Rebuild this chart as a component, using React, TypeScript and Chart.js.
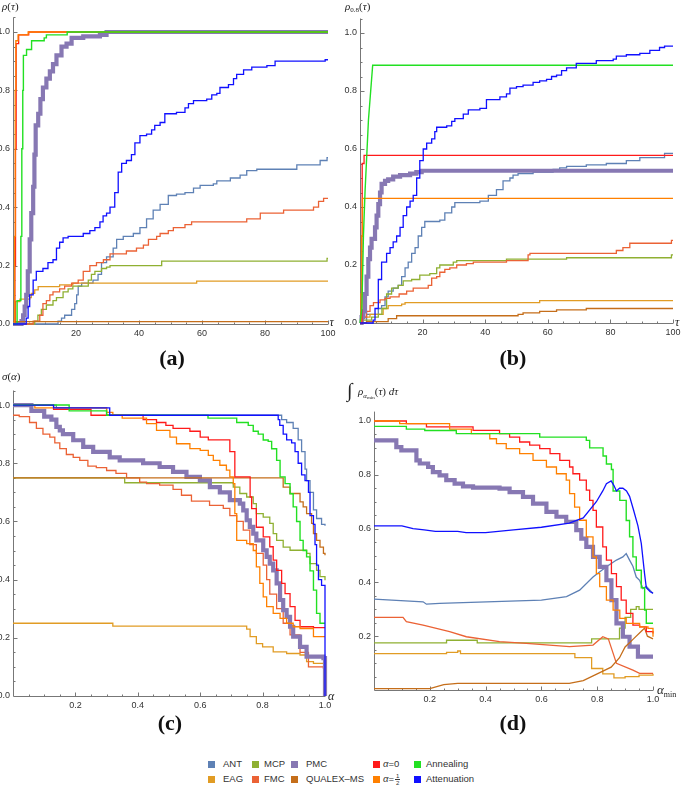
import React, { useEffect, useRef } from 'react';
import { Chart, registerables } from 'chart.js';
Chart.register(...registerables);

type P = [number, number];

// ---------- series names (drawing order, later = on top) ----------
const NAMES = ['ANT', 'EAG', 'MCP', 'FMC', 'PMC', 'QUALEX-MS', 'α=0', 'α=1/2', 'Annealing', 'Attenuation'];

// ---------- tick labels ----------
const TAU_TICKS = [20, 40, 60, 80, 100];
const ALPHA_TICKS = [0.2, 0.4, 0.6, 0.8, 1.0];
const Y_TICKS = [0, 0.2, 0.4, 0.6, 0.8, 1.0];
const Y_TICKS_D = [0.2, 0.4, 0.6, 0.8, 1.0];

// ---------- panel (a): rho(tau) ----------
const A_ANT: P[] = [[0,0],[14.3,0.01],[15.4,0.02],[16.4,0.03],[18.6,0.05],[19.6,0.07],[20.2,0.1],[20.7,0.13],[21.8,0.14],[25.4,0.15],[27,0.17],[28.1,0.21],[29.7,0.23],[31.8,0.26],[32.9,0.29],[35,0.3],[38.2,0.31],[40.3,0.33],[42.4,0.36],[44.5,0.39],[46.7,0.41],[49.3,0.44],[51.9,0.445],[54.6,0.45],[57.3,0.465],[59.4,0.475],[63.6,0.48],[64.7,0.49],[69,0.5],[72.1,0.51],[74.2,0.525],[77.4,0.53],[90.1,0.545],[97.5,0.56],[99.7,0.57],[100,0.57]];
const A_EAG: P[] = [[0,0],[0.8,0.077],[2.2,0.085],[5.3,0.09],[5.8,0.105],[6.9,0.117],[8,0.128],[14.8,0.134],[19,0.14],[58.3,0.147],[100,0.147]];
const A_MCP: P[] = [[0,0],[6.9,0.01],[7.9,0.03],[9,0.05],[10.6,0.065],[12.7,0.08],[13.8,0.09],[15.9,0.11],[17.5,0.12],[19,0.13],[23.9,0.15],[24.9,0.17],[26,0.18],[28.1,0.19],[29.7,0.195],[30.8,0.2],[47.2,0.215],[99.7,0.225],[100,0.225]];
const A_FMC: P[] = [[0,0],[6.4,0.01],[8.5,0.03],[9.5,0.07],[10.6,0.08],[11.7,0.1],[12.7,0.11],[14.8,0.12],[16.4,0.13],[18.6,0.14],[20.7,0.15],[22.3,0.18],[24.4,0.2],[26.5,0.21],[28.7,0.22],[30.8,0.24],[36,0.25],[39.2,0.26],[41.4,0.27],[43,0.29],[45.6,0.3],[46.7,0.31],[49.3,0.32],[50.9,0.33],[54.6,0.34],[56.7,0.35],[74.2,0.36],[78.5,0.38],[85.9,0.39],[95.4,0.4],[97,0.42],[98.6,0.43],[100,0.43]];
const A_PMC: P[] = [[0,0],[2.7,0.01],[3.2,0.03],[3.7,0.06],[4.2,0.1],[4.7,0.18],[5.3,0.29],[5.8,0.38],[6.4,0.47],[6.8,0.58],[7.2,0.68],[8,0.72],[8.7,0.77],[9.5,0.81],[10.6,0.84],[11.7,0.865],[12.7,0.89],[13.8,0.92],[15.4,0.95],[17,0.96],[18.6,0.98],[22.3,0.985],[27.6,0.99],[29.7,1],[100,1]];
const A_QUALEX: P[] = [[0,0.008],[100,0.008]];
const A_A0: P[] = [[0,0],[0.6,0.2],[0.8,0.6],[1,0.96],[1.8,0.99],[5,1],[100,1]];
const A_AH: P[] = [[0,0],[0.5,0.3],[0.7,0.8],[0.9,0.97],[1.6,0.99],[4.8,1],[100,1]];
const A_ANN: P[] = [[0,0],[1.3,0.08],[2.2,0.08],[2.5,0.3],[2.8,0.6],[3.1,0.8],[3.3,0.92],[4.3,0.94],[5.9,0.97],[9.9,0.98],[10.6,0.99],[17.2,1],[100,1]];
const A_ATT: P[] = [[0,0],[4.2,0.02],[4.8,0.06],[5.3,0.1],[6.4,0.15],[7.4,0.18],[9.5,0.19],[11.1,0.21],[12.7,0.22],[13.8,0.26],[14.8,0.28],[15.9,0.295],[17.5,0.3],[22.3,0.31],[24.4,0.32],[26,0.33],[27.6,0.35],[28.6,0.37],[29.7,0.38],[30.8,0.4],[32.3,0.45],[33.4,0.52],[34.5,0.55],[36,0.56],[37.6,0.58],[38.7,0.62],[40.3,0.645],[42.4,0.65],[44,0.665],[45,0.68],[46.7,0.69],[48.2,0.72],[51.9,0.725],[54.6,0.74],[55.7,0.755],[57.3,0.765],[61.5,0.77],[63.1,0.785],[64.7,0.79],[65.7,0.81],[68.4,0.82],[70,0.84],[71,0.855],[73.2,0.87],[75.8,0.88],[80.6,0.885],[83.2,0.9],[99.1,0.905],[100,0.905]];

// ---------- panel (b): rho_0.8(tau) ----------
const B_ANT: P[] = [[0,0],[2.1,0.03],[5.85,0.05],[6.9,0.06],[8,0.09],[9,0.11],[10.6,0.12],[12.2,0.13],[13.3,0.16],[14.4,0.19],[15.4,0.21],[16.5,0.24],[17.6,0.26],[18.6,0.3],[19.7,0.33],[20.7,0.35],[25.5,0.355],[27.1,0.38],[29.3,0.4],[30.3,0.415],[38.3,0.42],[41,0.44],[43.6,0.46],[45.7,0.49],[47.9,0.5],[48.9,0.51],[50.5,0.515],[55.3,0.52],[61.7,0.53],[63.8,0.535],[66,0.54],[72.3,0.545],[78.7,0.55],[85.1,0.56],[89.4,0.57],[97.3,0.585],[100,0.585]];
const B_EAG: P[] = [[0,0.01],[1,0.02],[3.2,0.03],[7.4,0.05],[9,0.06],[13.3,0.065],[14.4,0.07],[57.4,0.077],[100,0.077]];
const B_MCP: P[] = [[0,0],[1,0.01],[3.7,0.02],[5.85,0.03],[7,0.05],[8.5,0.1],[10.1,0.12],[12.2,0.13],[13.8,0.145],[16.5,0.15],[19.1,0.165],[22.3,0.17],[24.5,0.19],[25.5,0.2],[29.8,0.21],[30.9,0.215],[46.8,0.22],[66,0.225],[99.5,0.235],[100,0.235]];
const B_FMC: P[] = [[0,0.01],[1,0.02],[2.1,0.04],[3.2,0.06],[4.3,0.07],[6.4,0.08],[8,0.085],[9.6,0.09],[12.5,0.1],[14.9,0.11],[17,0.12],[21.8,0.13],[22.9,0.155],[24.5,0.16],[25.5,0.175],[27.1,0.185],[28.7,0.19],[30.9,0.2],[34,0.205],[36.2,0.21],[46.8,0.215],[53.7,0.235],[54.3,0.24],[81.9,0.25],[84,0.26],[86.2,0.275],[99.5,0.285],[100,0.285]];
const B_PMC: P[] = [[0,0],[0.5,0.02],[1.06,0.04],[1.6,0.1],[2.1,0.16],[2.66,0.22],[3.2,0.26],[3.7,0.29],[4.8,0.33],[5.3,0.37],[5.85,0.41],[6.4,0.45],[6.9,0.48],[8,0.49],[9,0.495],[10.6,0.505],[12.8,0.51],[16,0.515],[18,0.52],[19.7,0.525],[100,0.525]];
const B_QUALEX: P[] = [[0,0],[2.1,0.005],[9,0.015],[11.7,0.025],[50.5,0.03],[52.1,0.035],[57.4,0.04],[62.8,0.045],[72.3,0.05],[100,0.05]];
const B_A0: P[] = [[0,0],[0.5,0],[0.6,0.3],[0.7,0.55],[1.3,0.578],[100,0.578]];
const B_AH: P[] = [[0,0],[0.3,0.1],[0.5,0.3],[0.8,0.43],[100,0.43]];
const B_ANN: P[] = [[0,0],[0.3,0],[0.6,0.05],[1.1,0.3],[1.6,0.45],[2.7,0.7],[4.05,0.889],[100,0.889]];
const B_ATT: P[] = [[0,0],[4.2,0.01],[4.8,0.05],[5.85,0.15],[6.9,0.21],[8.5,0.24],[9.6,0.26],[10.6,0.28],[11.7,0.3],[12.8,0.33],[13.8,0.37],[14.9,0.4],[16,0.42],[17,0.44],[18.1,0.5],[19.1,0.56],[20.2,0.6],[21.3,0.62],[22.9,0.635],[23.9,0.66],[24.5,0.675],[27.7,0.68],[29.3,0.695],[30.3,0.705],[33,0.72],[34.6,0.735],[38.3,0.74],[40.4,0.77],[44.7,0.78],[46.8,0.79],[47.9,0.81],[50,0.815],[52.1,0.82],[55.3,0.83],[57.4,0.835],[59.6,0.84],[61.2,0.85],[62.8,0.855],[64.4,0.87],[66,0.88],[69.1,0.895],[75.5,0.905],[80.9,0.91],[81.9,0.92],[85.1,0.925],[89.4,0.93],[92.6,0.94],[95.7,0.95],[97.3,0.955],[100,0.955]];

// ---------- panel (c): sigma(alpha) ----------
const C_ANT: P[] = [[0,1],[0.139,0.99],[0.3,0.965],[0.861,0.95],[0.877,0.94],[0.898,0.92],[0.914,0.88],[0.925,0.84],[0.936,0.78],[0.941,0.74],[0.952,0.7],[0.963,0.64],[0.973,0.61],[0.989,0.59],[1,0.585]];
const C_EAG: P[] = [[0,0.25],[0.32,0.24],[0.749,0.23],[0.76,0.204],[0.78,0.18],[0.8,0.169],[0.834,0.152],[0.877,0.146],[0.92,0.141],[0.941,0.118],[0.963,0.112],[1,0.112]];
const C_MCP: P[] = [[0,0.75],[0.358,0.733],[0.706,0.718],[0.727,0.696],[0.749,0.684],[0.77,0.661],[0.78,0.627],[0.802,0.615],[0.823,0.593],[0.834,0.558],[0.845,0.535],[0.866,0.512],[0.888,0.501],[0.941,0.49],[0.952,0.455],[0.973,0.432],[0.984,0.41],[1,0.398]];
const C_FMC: P[] = [[0,0.965],[0.02,0.96],[0.053,0.94],[0.075,0.92],[0.096,0.9],[0.118,0.89],[0.134,0.87],[0.15,0.85],[0.171,0.83],[0.193,0.82],[0.214,0.81],[0.24,0.79],[0.267,0.785],[0.3,0.775],[0.33,0.765],[0.364,0.75],[0.406,0.735],[0.428,0.73],[0.47,0.725],[0.513,0.71],[0.54,0.69],[0.572,0.67],[0.63,0.655],[0.674,0.645],[0.695,0.62],[0.717,0.6],[0.738,0.57],[0.759,0.52],[0.78,0.49],[0.802,0.45],[0.813,0.4],[0.823,0.35],[0.845,0.3],[0.866,0.25],[0.888,0.21],[0.92,0.15],[0.947,0.1],[0.995,0.095],[1,0.095]];
const C_PMC: P[] = [[0,1],[0.059,0.98],[0.1,0.96],[0.123,0.95],[0.139,0.925],[0.15,0.913],[0.16,0.9],[0.193,0.879],[0.225,0.856],[0.257,0.839],[0.31,0.82],[0.342,0.81],[0.417,0.8],[0.47,0.787],[0.513,0.77],[0.556,0.753],[0.599,0.741],[0.631,0.718],[0.663,0.7],[0.695,0.673],[0.727,0.661],[0.738,0.638],[0.749,0.604],[0.759,0.581],[0.77,0.558],[0.78,0.535],[0.802,0.501],[0.813,0.478],[0.823,0.455],[0.834,0.432],[0.845,0.387],[0.856,0.33],[0.866,0.295],[0.877,0.272],[0.888,0.238],[0.898,0.204],[0.92,0.169],[0.941,0.135],[0.995,0.13],[1,0]];
const C_QUALEX: P[] = [[0,0.75],[0.866,0.718],[0.888,0.696],[0.92,0.667],[0.93,0.65],[0.941,0.627],[0.957,0.593],[0.963,0.558],[0.973,0.535],[0.984,0.512],[0.995,0.49],[1,0.484]];
const C_A0: P[] = [[0,1],[0.13,0.985],[0.25,0.965],[0.417,0.95],[0.46,0.94],[0.49,0.93],[0.513,0.92],[0.567,0.91],[0.6,0.89],[0.626,0.88],[0.695,0.84],[0.711,0.753],[0.76,0.684],[0.765,0.644],[0.78,0.58],[0.802,0.547],[0.823,0.513],[0.834,0.467],[0.845,0.432],[0.861,0.387],[0.872,0.352],[0.888,0.307],[0.904,0.26],[0.92,0.238],[0.963,0.235],[1,0.235]];
const C_AH: P[] = [[0,1],[0.07,0.99],[0.3,0.975],[0.32,0.965],[0.35,0.955],[0.428,0.936],[0.46,0.913],[0.503,0.89],[0.524,0.867],[0.567,0.85],[0.6,0.844],[0.626,0.827],[0.642,0.81],[0.663,0.793],[0.684,0.776],[0.695,0.753],[0.706,0.73],[0.711,0.627],[0.717,0.535],[0.749,0.524],[0.77,0.5],[0.78,0.444],[0.791,0.387],[0.802,0.341],[0.813,0.307],[0.834,0.284],[0.856,0.267],[0.877,0.25],[0.898,0.238],[0.92,0.232],[0.963,0.204],[1,0.204]];
const C_ANN: P[] = [[0,1],[0.18,0.98],[0.3,0.965],[0.625,0.955],[0.717,0.94],[0.754,0.93],[0.77,0.91],[0.786,0.9],[0.802,0.88],[0.818,0.875],[0.829,0.85],[0.845,0.81],[0.856,0.753],[0.872,0.73],[0.888,0.695],[0.898,0.65],[0.909,0.6],[0.92,0.535],[0.93,0.5],[0.941,0.478],[0.952,0.43],[0.963,0.364],[0.973,0.284],[0.984,0.25],[1,0.25]];
const C_ATT: P[] = [[0,1],[0.13,0.99],[0.31,0.965],[0.85,0.95],[0.855,0.93],[0.866,0.9],[0.877,0.88],[0.893,0.87],[0.904,0.84],[0.914,0.8],[0.925,0.76],[0.936,0.74],[0.947,0.7],[0.952,0.62],[0.963,0.59],[0.968,0.52],[0.973,0.45],[0.979,0.4],[0.989,0.38],[1,0]];

// ---------- panel (d): integral of rho_alpha_min ----------
const D_ANT: P[] = [[0,0.338],[0.176,0.328],[0.188,0.319],[0.235,0.322],[0.6,0.334],[0.69,0.347],[0.737,0.371],[0.785,0.42],[0.833,0.458],[0.869,0.483],[0.892,0.495],[0.904,0.507],[0.916,0.483],[0.928,0.46],[0.94,0.42],[0.952,0.408],[0.964,0.377],[0.976,0.385],[1,0.359]];
const D_EAG: P[] = [[0,0.135],[0.25,0.135],[0.26,0.14],[0.3,0.145],[0.31,0.135],[0.67,0.135],[0.72,0.12],[0.78,0.08],[0.82,0.06],[0.86,0.045],[0.9,0.05],[0.95,0.055],[1,0.06]];
const D_MCP: P[] = [[0,0.175],[0.25,0.175],[0.26,0.185],[0.36,0.185],[0.37,0.175],[0.72,0.175],[0.78,0.19],[0.84,0.19],[0.88,0.23],[0.9,0.27],[0.92,0.3],[0.94,0.31],[0.95,0.3],[1,0.3]];
const D_FMC: P[] = [[0,0.27],[0.104,0.27],[0.116,0.254],[0.176,0.241],[0.271,0.217],[0.331,0.198],[0.45,0.18],[0.546,0.173],[0.701,0.161],[0.785,0.167],[0.82,0.198],[0.84,0.19],[0.869,0.099],[0.928,0.074],[0.952,0.062],[1,0.062]];
const D_PMC: P[] = [[0,0.928],[0.068,0.928],[0.08,0.903],[0.098,0.891],[0.14,0.891],[0.152,0.854],[0.164,0.842],[0.194,0.829],[0.211,0.81],[0.235,0.798],[0.259,0.78],[0.289,0.767],[0.319,0.757],[0.355,0.752],[0.45,0.749],[0.486,0.736],[0.534,0.718],[0.57,0.693],[0.618,0.662],[0.654,0.644],[0.689,0.625],[0.725,0.594],[0.743,0.563],[0.761,0.532],[0.785,0.495],[0.809,0.458],[0.833,0.408],[0.851,0.334],[0.869,0.248],[0.892,0.198],[0.916,0.161],[0.946,0.124],[1,0.124]];
const D_QUALEX: P[] = [[0,0.005],[0.2,0.005],[0.25,0.02],[0.3,0.025],[0.7,0.025],[0.75,0.035],[0.8,0.06],[0.85,0.085],[0.88,0.12],[0.9,0.16],[0.93,0.19],[0.96,0.22],[0.97,0.23],[0.98,0.2],[1,0.19]];
const D_A0: P[] = [[0,1],[0.116,0.99],[0.188,0.978],[0.355,0.965],[0.45,0.953],[0.486,0.94],[0.522,0.922],[0.558,0.91],[0.594,0.897],[0.631,0.879],[0.666,0.854],[0.701,0.829],[0.713,0.804],[0.737,0.78],[0.761,0.743],[0.773,0.705],[0.785,0.668],[0.797,0.606],[0.82,0.532],[0.833,0.483],[0.851,0.433],[0.869,0.384],[0.886,0.334],[0.904,0.285],[0.928,0.241],[0.952,0.235],[0.976,0.217],[1,0.21]];
const D_AH: P[] = [[0,1],[0.092,0.99],[0.271,0.97],[0.349,0.953],[0.415,0.934],[0.439,0.916],[0.474,0.897],[0.522,0.879],[0.57,0.854],[0.618,0.829],[0.654,0.804],[0.689,0.78],[0.701,0.73],[0.719,0.68],[0.737,0.631],[0.761,0.569],[0.785,0.495],[0.797,0.433],[0.809,0.384],[0.833,0.334],[0.857,0.297],[0.881,0.266],[0.904,0.248],[0.952,0.235],[0.982,0.229],[1,0.198]];
const D_ANN: P[] = [[0,0.98],[0.116,0.97],[0.182,0.965],[0.295,0.953],[0.594,0.94],[0.761,0.928],[0.773,0.9],[0.821,0.87],[0.833,0.84],[0.851,0.82],[0.857,0.74],[0.881,0.705],[0.904,0.63],[0.916,0.57],[0.928,0.495],[0.94,0.445],[0.958,0.38],[0.97,0.297],[0.976,0.248],[1,0.248]];
const D_ATT: P[] = [[0,0.61],[0.1,0.61],[0.14,0.6],[0.18,0.595],[0.22,0.59],[0.3,0.59],[0.33,0.585],[0.4,0.585],[0.5,0.595],[0.6,0.605],[0.7,0.62],[0.75,0.64],[0.797,0.7],[0.82,0.74],[0.833,0.767],[0.85,0.777],[0.86,0.76],[0.869,0.74],[0.88,0.75],[0.892,0.75],[0.905,0.74],[0.916,0.72],[0.93,0.67],[0.946,0.61],[0.958,0.545],[0.97,0.43],[0.976,0.38],[0.99,0.365],[1,0.36]];

// ---------- styles ----------
const COLORS = ['#5E81B5', '#E19C24', '#8FB032', '#EB6235', '#8778B3', '#C56E1A', '#FF1A1A', '#FF8000', '#22E022', '#1010FF'];
const WIDTHS = [1.3, 1.3, 1.3, 1.3, 4.2, 1.3, 1.3, 1.3, 1.4, 1.3];
const AXIS = '#777';
const TICKFONT = { family: '"Liberation Sans", Arial, sans-serif', size: 9 };
const SERIF = '"Liberation Serif", "DejaVu Serif", serif';

type Spec = {
  key: string; left: number; top: number; w: number; h: number;
  area: { l: number; r: number; t: number; b: number };
  x: [number, number]; y: [number, number];
  xTicks: number[]; yTicks: number[]; xDec: number;
  xMinor: number; yMinor: number; xEvery: number; yEvery: number;
  series: P[][]; linear: number[];
};

const PANELS: Spec[] = [
  { key: 'a', left: 0, top: 0, w: 342, h: 345, area: { l: 13, r: 328, t: 17.4, b: 324 }, x: [0, 100], y: [0, 1.05],
    xTicks: TAU_TICKS, yTicks: Y_TICKS, xDec: 0, xMinor: 5, yMinor: 0.05, xEvery: 4, yEvery: 4,
    series: [A_ANT, A_EAG, A_MCP, A_FMC, A_PMC, A_QUALEX, A_A0, A_AH, A_ANN, A_ATT], linear: [] },
  { key: 'b', left: 342, top: 0, w: 343, h: 345, area: { l: 18, r: 331, t: 18.5, b: 323 }, x: [0, 100], y: [0, 1.05],
    xTicks: TAU_TICKS, yTicks: Y_TICKS, xDec: 0, xMinor: 5, yMinor: 0.05, xEvery: 4, yEvery: 4,
    series: [B_ANT, B_EAG, B_MCP, B_FMC, B_PMC, B_QUALEX, B_A0, B_AH, B_ANN, B_ATT], linear: [8] },
  { key: 'c', left: 0, top: 370, w: 342, h: 340, area: { l: 13, r: 325, t: 20.5, b: 326 }, x: [0, 1], y: [0, 1.05],
    xTicks: ALPHA_TICKS, yTicks: Y_TICKS, xDec: 1, xMinor: 0.05, yMinor: 0.05, xEvery: 4, yEvery: 4,
    series: [C_ANT, C_EAG, C_MCP, C_FMC, C_PMC, C_QUALEX, C_A0, C_AH, C_ANN, C_ATT], linear: [] },
  { key: 'd', left: 342, top: 370, w: 343, h: 340, area: { l: 32, r: 311, t: 41.6, b: 320 }, x: [0, 1], y: [0, 1.035],
    xTicks: ALPHA_TICKS, yTicks: Y_TICKS_D, xDec: 1, xMinor: 0.05, yMinor: 0.05, xEvery: 4, yEvery: 4,
    series: [D_ANT, D_EAG, D_MCP, D_FMC, D_PMC, D_QUALEX, D_A0, D_AH, D_ANN, D_ATT], linear: [0, 3, 5, 9] },
];

type Part = [string, string, number];
function rich(ctx: CanvasRenderingContext2D, x: number, y: number, parts: Part[]) {
  ctx.textAlign = 'left';
  ctx.textBaseline = 'alphabetic';
  ctx.fillStyle = '#222';
  let cx = x;
  for (const [t, f, dy] of parts) {
    ctx.font = f;
    ctx.fillText(t, cx, y + dy);
    cx += ctx.measureText(t).width;
  }
}
const I = (s: number) => `italic ${s}px ${SERIF}`;
const R = (s: number) => `${s}px ${SERIF}`;

function drawTitles(ctx: CanvasRenderingContext2D, key: string) {
  if (key === 'a') {
    rich(ctx, 2, 9.5, [['ρ', I(11), 0], ['(', R(11), 0], ['τ', I(11), 0], [')', R(11), 0]]);
    rich(ctx, 329.5, 326, [['τ', I(12), 0]]);
  } else if (key === 'b') {
    rich(ctx, 3, 9.5, [['ρ', I(11), 0], ['0.8', R(7), 2.5], ['(', R(11), 0], ['τ', I(11), 0], [')', R(11), 0]]);
    rich(ctx, 333, 326, [['τ', I(12), 0]]);
  } else if (key === 'c') {
    rich(ctx, 2, 10, [['σ', I(11), 0], ['(', R(11), 0], ['α', I(11), 0], [')', R(11), 0]]);
    rich(ctx, 328, 330, [['α', I(12), 0]]);
  } else {
    rich(ctx, 5, 27, [['∫', R(20), 0]]);
    rich(ctx, 16, 25, [['ρ', I(11), 0], ['α', I(7), 2.5], ['min', R(5), 4], ['(', R(11), 0], ['τ', I(11), 0], [')', R(11), 0], [' d', I(11), 0], ['τ', I(11), 0]]);
    rich(ctx, 315, 324, [['α', I(13), 0], ['min', R(8), 3]]);
  }
}

function decor(s: Spec) {
  return {
    id: 'decor' + s.key,
    beforeDatasetsDraw(chart: any) {
      const { ctx, chartArea: a, scales } = chart;
      const x = scales.x, y = scales.y;
      ctx.save();
      ctx.strokeStyle = AXIS;
      ctx.lineWidth = 1;
      ctx.beginPath();
      const ax = Math.round(a.left) + 0.5;
      const ay = Math.round(a.bottom) + 0.5;
      ctx.moveTo(ax, a.top);
      ctx.lineTo(ax, ay);
      ctx.moveTo(ax, ay);
      ctx.lineTo(a.right, ay);
      const nx = Math.round((s.x[1] - s.x[0]) / s.xMinor);
      for (let i = 1; i <= nx; i++) {
        const px = Math.round(x.getPixelForValue(s.x[0] + i * s.xMinor)) + 0.5;
        const major = i % s.xEvery === 0;
        ctx.moveTo(px, ay);
        ctx.lineTo(px, ay - (major ? 4 : 2));
      }
      const ny = Math.floor((s.y[1] - s.y[0]) / s.yMinor + 1e-6);
      for (let i = 1; i <= ny; i++) {
        const py = Math.round(y.getPixelForValue(s.y[0] + i * s.yMinor)) + 0.5;
        const major = i % s.yEvery === 0;
        ctx.moveTo(ax, py);
        ctx.lineTo(ax + (major ? 4 : 2), py);
      }
      ctx.stroke();
      ctx.restore();
    },
    afterDraw(chart: any) {
      const ctx = chart.ctx;
      ctx.save();
      drawTitles(ctx, s.key);
      ctx.restore();
    },
  };
}

function Panel({ s }: { s: Spec }) {
  const ref = useRef<HTMLCanvasElement>(null);
  useEffect(() => {
    const canvas = ref.current!;
    const chart = new Chart(canvas, {
      type: 'line',
      data: {
        datasets: s.series.map((arr, i) => ({
          label: NAMES[i],
          data: arr.map(([x, y]) => ({ x, y })),
          borderColor: COLORS[i],
          backgroundColor: COLORS[i],
          borderWidth: WIDTHS[i],
          pointRadius: 0,
          fill: false,
          tension: 0,
          stepped: s.linear.includes(i) ? false : true,
          order: 20 - i,
          clip: 8,
        })),
      },
      options: {
        responsive: false,
        animation: false,
        events: [],
        layout: { padding: { left: 0, top: s.area.t, right: s.w - s.area.r, bottom: 0 } },
        plugins: { legend: { display: false }, tooltip: { enabled: false } },
        scales: {
          x: {
            type: 'linear', min: s.x[0], max: s.x[1],
            afterFit: (sc: any) => { sc.height = s.h - s.area.b; },
            afterBuildTicks: (sc: any) => { sc.ticks = s.xTicks.map((v) => ({ value: v })); },
            grid: { display: false, drawTicks: false, tickLength: 0 },
            border: { display: false },
            ticks: { padding: 4, font: TICKFONT, color: '#333', autoSkip: false, maxRotation: 0,
              callback: (v: any) => Number(v).toFixed(s.xDec) },
          },
          y: {
            type: 'linear', min: s.y[0], max: s.y[1],
            afterFit: (sc: any) => { sc.width = s.area.l; },
            afterBuildTicks: (sc: any) => { sc.ticks = s.yTicks.map((v) => ({ value: v })); },
            grid: { display: false, drawTicks: false, tickLength: 0 },
            border: { display: false },
            ticks: { padding: 3, font: TICKFONT, color: '#333', autoSkip: false,
              callback: (v: any) => Number(v).toFixed(1) },
          },
        },
      },
      plugins: [decor(s)],
    } as any);
    return () => chart.destroy();
  }, [s]);
  return (
    <canvas ref={ref} width={s.w} height={s.h}
      style={{ position: 'absolute', left: s.left, top: s.top, width: s.w, height: s.h }} />
  );
}

const LABELS: { t: string; cx: number; cy: number }[] = [
  { t: '(a)', cx: 172, cy: 358 },
  { t: '(b)', cx: 513, cy: 358 },
  { t: '(c)', cx: 170, cy: 723 },
  { t: '(d)', cx: 513, cy: 723 },
];

const LEGEND: { name: string; color: string; sx: number; tx: number; cy: number }[] = [
  { name: 'ANT', color: COLORS[0], sx: 208, tx: 223, cy: 764 },
  { name: 'EAG', color: COLORS[1], sx: 208, tx: 223, cy: 779 },
  { name: 'MCP', color: COLORS[2], sx: 252, tx: 264, cy: 764 },
  { name: 'FMC', color: COLORS[3], sx: 252, tx: 264, cy: 779 },
  { name: 'PMC', color: COLORS[4], sx: 291, tx: 306, cy: 764 },
  { name: 'QUALEX-MS', color: COLORS[5], sx: 291, tx: 306, cy: 779 },
  { name: 'α=0', color: COLORS[6], sx: 373, tx: 383, cy: 764 },
  { name: 'α=1/2', color: COLORS[7], sx: 373, tx: 383, cy: 779 },
  { name: 'Annealing', color: COLORS[8], sx: 414, tx: 426, cy: 764 },
  { name: 'Attenuation', color: COLORS[9], sx: 414, tx: 426, cy: 779 },
];

function LegendText({ name }: { name: string }) {
  if (name === 'α=0') return <span><i>α</i>=0</span>;
  if (name === 'α=1/2')
    return (
      <span style={{ display: 'inline-flex', alignItems: 'center' }}>
        <i>α</i>=
        <span style={{ display: 'inline-flex', flexDirection: 'column', alignItems: 'center', fontSize: 6, lineHeight: '6px', marginLeft: 1 }}>
          <span style={{ borderBottom: '0.6px solid #333', padding: '0 1px' }}>1</span>
          <span>2</span>
        </span>
      </span>
    );
  return <span>{name.replace('-', '–')}</span>;
}

export default function App() {
  return (
    <div style={{ position: 'absolute', left: 0, top: 0, width: 685, height: 793, background: '#fff', overflow: 'hidden' }}>
      {PANELS.map((s) => <Panel key={s.key} s={s} />)}
      {LABELS.map((l) => (
        <div key={l.t} style={{ position: 'absolute', left: l.cx - 30, top: l.cy - 14, width: 60, height: 28, lineHeight: '28px',
          textAlign: 'center', fontFamily: SERIF, fontWeight: 'bold', fontSize: 22, color: '#111' }}>{l.t}</div>
      ))}
      {LEGEND.map((g) => (
        <React.Fragment key={g.name}>
          <div style={{ position: 'absolute', left: g.sx, top: g.cy - 3.5, width: 7, height: 7, background: g.color }} />
          <div style={{ position: 'absolute', left: g.tx, top: g.cy - 7, height: 14, lineHeight: '14px', whiteSpace: 'nowrap',
            fontFamily: '"Liberation Sans", Arial, sans-serif', fontSize: 9.5, color: '#333' }}>
            <LegendText name={g.name} />
          </div>
        </React.Fragment>
      ))}
    </div>
  );
}
